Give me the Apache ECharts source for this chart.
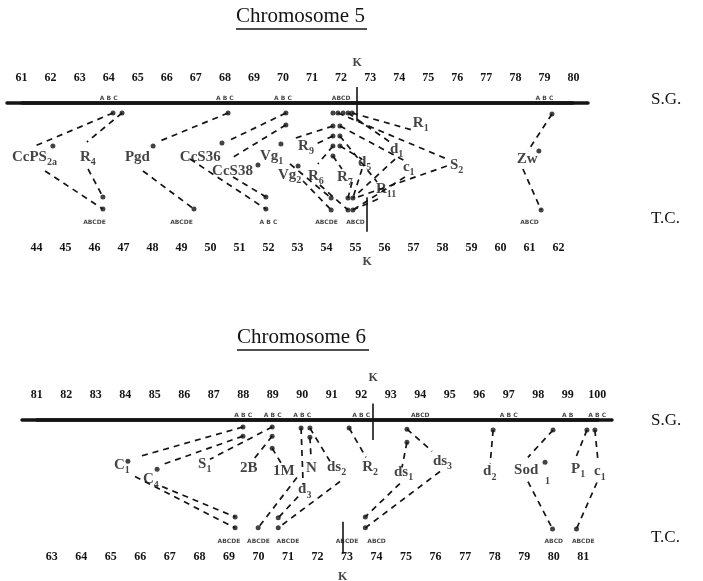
<!DOCTYPE html>
<html>
<head>
<meta charset="utf-8">
<script src="https://cdn.jsdelivr.net/npm/echarts@6/dist/echarts.min.js"></script>
<style>
  html, body { margin: 0; background: #fff; }
  #chart { width: 703px; height: 581px; }
</style>
</head>
<body>
<div id="chart"></div>
<script>
// map units on each axis, band labels as printed
const c5SgTicks = ['61','62','63','64','65','66','67','68','69','70','71','72','73','74','75','76','77','78','79','80'];
const c5TcTicks = ['44','45','46','47','48','49','50','51','52','53','54','55','56','57','58','59','60','61','62'];
const c6SgTicks = ['81','82','83','84','85','86','87','88','89','90','91','92','93','94','95','96','97','98','99','100'];
const c6TcTicks = ['63','64','65','66','67','68','69','70','71','72','73','74','75','76','77','78','79','80','81'];

// sub-band letters printed inside some bands
const c5SgBands = [[64, 'A B C'], [68, 'A B C'], [70, 'A B C'], [72, 'ABCD'], [79, 'A B C']];
const c5TcBands = [[46, 'ABCDE'], [49, 'ABCDE'], [52, 'A B C'], [54, 'ABCDE'], [55, 'ABCD'], [61, 'ABCD']];
const c6SgBands = [[88, 'A B C'], [89, 'A B C'], [90, 'A B C'], [92, 'A B C'], [94, 'ABCD'], [97, 'A B C'], [99, 'A B'], [100, 'A B C']];
const c6TcBands = [[69, 'ABCDE'], [70, 'ABCDE'], [71, 'ABCDE'], [73, 'ABCDE'], [74, 'ABCD'], [80, 'ABCD'], [81, 'ABCDE']];

// dots: [map position, depth] ; depth 0 = S.G. line, 100 = T.C. line
const c5SgDots = [[64.15, 8.7], [64.46, 8.7], [68.11, 8.7], [70.10, 8.7], [70.10, 19.1],
  [71.72, 8.7], [71.89, 8.7], [72.07, 8.7], [72.24, 8.7], [72.38, 8.7],
  [71.72, 20], [71.96, 20], [71.72, 28.7], [71.96, 28.7], [71.72, 37.4], [71.96, 37.4], [71.72, 46.1],
  [79.26, 9.6]];
const c5MidDots = [[62.08, 37.4], [65.53, 37.4], [67.90, 34.8], [69.14, 53.9], [69.93, 35.7], [70.52, 54.8], [78.81, 41.7]];
const c5TcDots = [[46.29, 81.7], [46.29, 92.2], [49.43, 92.2], [51.91, 81.7], [51.91, 92.2],
  [54.16, 82.6], [54.16, 93], [54.74, 82.6], [54.91, 82.6], [54.74, 93], [54.91, 93], [61.40, 93]];

// S.G. dot -> label : [sgPos, depth, pos, depth]
const c5Upper = [
  [64.15, 8.7, 61.46, 37.4], [64.46, 8.7, 63.25, 33.9], [68.11, 8.7, 65.77, 33],
  [70.10, 8.7, 68.11, 33], [70.10, 19.1, 68.18, 48.7], [71.72, 20, 70.34, 31.3],
  [71.72, 28.7, 71.07, 36.5], [71.72, 37.4, 71.20, 53], [71.72, 46.1, 72.03, 57.4],
  [71.96, 37.4, 72.72, 48.7], [71.96, 28.7, 73.24, 68.7], [72.24, 8.7, 73.68, 33.9],
  [71.96, 20, 74.20, 50.4], [71.89, 8.7, 75.64, 48.7], [72.38, 8.7, 74.44, 23.5],
  [79.26, 9.6, 78.43, 41.7]
];
// label -> T.C. dot : [sgPos, depth, tcPos, depth]
const c5Lower = [
  [61.81, 59.1, 46.29, 92.2], [63.29, 57.4, 46.29, 81.7], [65.18, 59.1, 49.43, 92.2],
  [66.80, 48.7, 51.91, 92.2], [68.28, 64.3, 51.91, 81.7], [70.24, 53, 54.16, 82.6],
  [70.69, 67.8, 54.16, 93], [71.27, 71.3, 54.74, 93], [72.38, 68.7, 54.74, 82.6],
  [72.72, 57.4, 54.91, 82.6], [73.27, 83.5, 54.91, 93], [73.86, 48.7, 54.91, 82.6],
  [74.20, 64.3, 54.91, 93], [75.64, 54.8, 54.98, 82.6], [78.26, 57.4, 61.40, 93]
];
// loci: [pos, depth, name, subscript]
const c5Labels = [
  [60.67, 47, 'CcPS', '2a'], [63.01, 47, 'R', '4'], [64.56, 47, 'Pgd', ''], [66.45, 47, 'CcS36', ''],
  [67.56, 59.1, 'CcS38', ''], [69.21, 46.1, 'Vg', '1'], [69.83, 62.6, 'Vg', '2'], [70.52, 37.4, 'R', '9'],
  [70.86, 63.5, 'R', '6'], [71.86, 64.3, 'R', '7'], [72.58, 51.3, 'd', '5'], [73.20, 74.8, 'R', '11'],
  [73.68, 40, 'd', '1'], [74.13, 55.7, 'c', '1'], [75.75, 53.9, 'S', '2'], [74.47, 17.4, 'R', '1'],
  [78.05, 48.7, 'Zw', '']
];
const c5K = { sg: 72.55, tc: 55.4 };

const c6SgDots = [[87.99, 6.0], [87.99, 13.8], [88.98, 6.0], [88.98, 13.8], [88.98, 24.1],
  [89.96, 6.9], [90.26, 6.9], [90.26, 14.7], [91.59, 6.9], [93.55, 7.8], [93.55, 19.0],
  [96.47, 8.6], [98.50, 8.6], [99.65, 8.6], [99.92, 8.6]];
const c6MidDots = [[84.09, 35.3], [85.08, 42.2], [98.23, 36.2]];
const c6TcDots = [[69.21, 82.8], [69.21, 92.2], [69.99, 92.2], [70.67, 83.6], [70.67, 92.2],
  [73.62, 82.8], [73.62, 92.2], [79.96, 93.1], [80.77, 93.1]];
const c6Upper = [
  [87.99, 6.0, 84.50, 31.0], [87.99, 13.8, 85.28, 37.9], [88.98, 6.0, 86.87, 33.6],
  [88.98, 13.8, 88.30, 35.3], [88.98, 24.1, 89.35, 39.7], [89.96, 6.9, 90.03, 55.2],
  [90.26, 14.7, 90.30, 33.6], [90.26, 6.9, 90.94, 35.3], [91.59, 6.9, 92.16, 31.9],
  [93.55, 19.0, 93.38, 40.5], [93.55, 7.8, 94.40, 26.7], [96.47, 8.6, 96.37, 37.1],
  [98.50, 8.6, 97.65, 31.9], [99.65, 8.6, 99.25, 33.6], [99.92, 8.6, 100.03, 36.2]
];
const c6Lower = [
  [84.33, 48.3, 69.21, 92.2], [85.25, 56.9, 69.21, 82.8], [89.82, 49.1, 69.99, 92.2],
  [89.86, 65.5, 70.67, 83.6], [91.28, 52.6, 70.67, 92.2], [93.31, 54.3, 73.62, 82.8],
  [94.67, 44.0, 73.62, 92.2], [97.65, 52.6, 79.96, 93.1], [99.99, 53.4, 80.77, 93.1]
];
const c6Labels = [
  [83.62, 38.8, 'C', '1'], [84.60, 50.9, 'C', '4'], [86.47, 37.9, 'S', '1'], [87.89, 41.4, '2B', ''],
  [89.01, 44.0, '1M', ''], [90.13, 41.4, 'N', ''], [90.84, 40.5, 'ds', '2'], [92.03, 40.5, 'R', '2'],
  [93.11, 44.8, 'ds', '1'], [94.43, 35.3, 'ds', '3'], [96.13, 44.0, 'd', '2'], [97.18, 43.1, 'Sod', ''],
  [98.23, 47.4, '', '1'], [99.11, 42.2, 'P', '1'], [99.89, 44.0, 'c', '1'], [89.86, 59.5, 'd', '3']
];
const c6K = { sg: 92.4, tc: 72.85 };

const ink = '#141414';
const serif = 'Liberation Serif';

// where each panel sits on the page
const panels = [
  {
    ticks: [c5SgTicks, c5TcTicks], bands: [c5SgBands, c5TcBands],
    sgDots: c5SgDots, midDots: c5MidDots, tcDots: c5TcDots, upper: c5Upper, lower: c5Lower,
    labels: c5Labels, k: c5K,
    top: 103, height: 115,
    sg: { left: 7, width: 581, range: [60.5, 80.5], margin: 19 },
    tc: { left: 22, width: 551, range: [43.5, 62.5], margin: 24 },
    kSg: [-14, 16, -35], kTc: [82, 112, 138]
  },
  {
    ticks: [c6SgTicks, c6TcTicks], bands: [c6SgBands, c6TcBands],
    sgDots: c6SgDots, midDots: c6MidDots, tcDots: c6TcDots, upper: c6Upper, lower: c6Lower,
    labels: c6Labels, k: c6K,
    top: 420, height: 117,
    sg: { left: 22, width: 590, range: [80.5, 100.5], margin: 19 },
    tc: { left: 37, width: 561, range: [62.5, 81.5], margin: 14 },
    kSg: [-14, 17, -36], kTc: [87, 114, 134]
  }
];

const chart = echarts.init(document.getElementById('chart'), null, { renderer: 'canvas' });

function bandAxis(gridIndex, ticks, position, margin) {
  return {
    type: 'category', gridIndex, position, data: ticks,
    axisLine: { lineStyle: { color: ink, width: 3.5 } },
    axisTick: { length: 7, lineStyle: { color: ink, width: 1.6 } },
    axisLabel: { interval: 0, margin, color: ink, fontFamily: serif, fontWeight: 'bold', fontSize: 12 },
    splitLine: { show: false }
  };
}

const grid = [], xAxis = [], yAxis = [];
panels.forEach((p, i) => {
  grid.push({ left: p.sg.left, width: p.sg.width, top: p.top, height: p.height });
  grid.push({ left: p.tc.left, width: p.tc.width, top: p.top, height: p.height });
  xAxis.push(bandAxis(2 * i, p.ticks[0], 'top', p.sg.margin));
  xAxis.push({ type: 'value', gridIndex: 2 * i, min: p.sg.range[0], max: p.sg.range[1], show: false });
  xAxis.push(bandAxis(2 * i + 1, p.ticks[1], 'bottom', p.tc.margin));
  xAxis.push({ type: 'value', gridIndex: 2 * i + 1, min: p.tc.range[0], max: p.tc.range[1], show: false });
  yAxis.push({ type: 'value', gridIndex: 2 * i, min: 0, max: 100, inverse: true, show: false });
  yAxis.push({ type: 'value', gridIndex: 2 * i + 1, min: 0, max: 100, inverse: true, show: false });
});

chart.setOption({
  animation: false,
  backgroundColor: '#fff',
  title: [
    { text: 'Chromosome 5', left: 231, top: 1, textStyle: { fontFamily: serif, fontSize: 21, fontWeight: 'normal', color: ink } },
    { text: 'Chromosome 6', left: 232, top: 322, textStyle: { fontFamily: serif, fontSize: 21, fontWeight: 'normal', color: ink } }
  ],
  graphic: [
    { type: 'line', shape: { x1: 236, y1: 29, x2: 367, y2: 29 }, style: { stroke: ink, lineWidth: 1.4 } },
    { type: 'line', shape: { x1: 237, y1: 350, x2: 369, y2: 350 }, style: { stroke: ink, lineWidth: 1.4 } },
    { type: 'text', x: 651, y: 100, style: { text: 'S.G.', font: '17px "Liberation Serif"', fill: ink, verticalAlign: 'middle' } },
    { type: 'text', x: 651, y: 219, style: { text: 'T.C.', font: '17px "Liberation Serif"', fill: ink, verticalAlign: 'middle' } },
    { type: 'text', x: 651, y: 421, style: { text: 'S.G.', font: '17px "Liberation Serif"', fill: ink, verticalAlign: 'middle' } },
    { type: 'text', x: 651, y: 538, style: { text: 'T.C.', font: '17px "Liberation Serif"', fill: ink, verticalAlign: 'middle' } }
  ],
  grid, xAxis, yAxis
});

// subscript sits low in a taller line box
const labelRich = {
  m: { fontFamily: serif, fontSize: 15, fontWeight: 'bold', color: ink, lineHeight: 21, verticalAlign: 'middle' },
  s: { fontFamily: serif, fontSize: 10, fontWeight: 'bold', color: ink, lineHeight: 21, verticalAlign: 'bottom' }
};

const series = [];
panels.forEach((p, i) => {
  const sgX = 4 * i + 1, tcX = 4 * i + 3, sgY = 2 * i, tcY = 2 * i + 1;
  // T.C. position -> S.G. position through the two axes
  const toSg = t => chart.convertFromPixel({ xAxisIndex: sgX }, chart.convertToPixel({ xAxisIndex: tcX }, t));

  const dashed = p.upper.map(s => ({ coords: [[s[0], s[1]], [s[2], s[3]]] }))
    .concat(p.lower.map(s => ({ coords: [[s[0], s[1]], [toSg(s[2]), s[3]]] })));

  series.push({
    type: 'lines', coordinateSystem: 'cartesian2d', xAxisIndex: sgX, yAxisIndex: sgY,
    silent: true, clip: false, data: dashed,
    lineStyle: { color: ink, width: 1.7, type: [6, 5], opacity: 1 }
  });
  series.push({
    type: 'lines', coordinateSystem: 'cartesian2d', xAxisIndex: sgX, yAxisIndex: sgY,
    silent: true, clip: false,
    data: [{ coords: [[p.k.sg, p.kSg[0]], [p.k.sg, p.kSg[1]]] }],
    lineStyle: { color: ink, width: 1.6, opacity: 1 }
  });
  series.push({
    type: 'lines', coordinateSystem: 'cartesian2d', xAxisIndex: tcX, yAxisIndex: tcY,
    silent: true, clip: false,
    data: [{ coords: [[p.k.tc, p.kTc[0]], [p.k.tc, p.kTc[1]]] }],
    lineStyle: { color: ink, width: 1.6, opacity: 1 }
  });
  series.push({
    type: 'scatter', xAxisIndex: sgX, yAxisIndex: sgY, clip: false, silent: true,
    symbolSize: 5, itemStyle: { color: ink },
    data: p.sgDots.concat(p.midDots)
  });
  series.push({
    type: 'scatter', xAxisIndex: tcX, yAxisIndex: tcY, clip: false, silent: true,
    symbolSize: 5, itemStyle: { color: ink },
    data: p.tcDots
  });
  series.push({
    type: 'scatter', xAxisIndex: sgX, yAxisIndex: sgY, clip: false, silent: true,
    symbolSize: 0,
    data: p.labels.map(l => ({ value: [l[0], l[1]], main: l[2], sub: l[3] })),
    label: {
      show: true, position: 'right', distance: 0,
      formatter: q => (q.data.main ? '{m|' + q.data.main + '}' : '') + (q.data.sub ? '{s|' + q.data.sub + '}' : ''),
      rich: labelRich
    }
  });
  // sub-band letters and K marks
  const small = { show: true, position: 'inside', formatter: '{b}', color: ink, fontFamily: 'DejaVu Sans', fontSize: 6, fontWeight: 'bold' };
  const kLabel = { show: true, position: 'inside', formatter: '{b}', color: ink, fontFamily: serif, fontSize: 12, fontWeight: 'bold' };
  series.push({
    type: 'scatter', xAxisIndex: sgX, yAxisIndex: sgY, clip: false, silent: true, symbolSize: 0,
    data: p.bands[0].map(b => ({ name: b[1], value: [b[0], -4] })), label: small
  });
  series.push({
    type: 'scatter', xAxisIndex: tcX, yAxisIndex: tcY, clip: false, silent: true, symbolSize: 0,
    data: p.bands[1].map(b => ({ name: b[1], value: [b[0], 104] })), label: small
  });
  series.push({
    type: 'scatter', xAxisIndex: sgX, yAxisIndex: sgY, clip: false, silent: true, symbolSize: 0,
    data: [{ name: 'K', value: [p.k.sg, p.kSg[2]] }], label: kLabel
  });
  series.push({
    type: 'scatter', xAxisIndex: tcX, yAxisIndex: tcY, clip: false, silent: true, symbolSize: 0,
    data: [{ name: 'K', value: [p.k.tc, p.kTc[2]] }], label: kLabel
  });
});

chart.setOption({ series });
</script>
</body>
</html>
